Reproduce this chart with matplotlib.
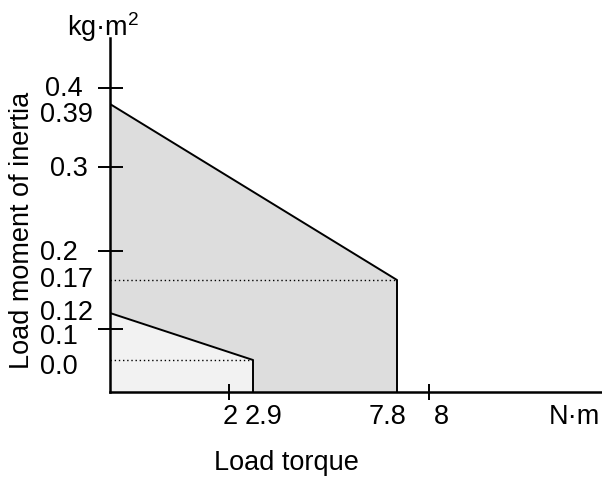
import numpy as np
import matplotlib
matplotlib.use("Agg")
import matplotlib.pyplot as plt
import matplotlib.transforms as mtransforms

plt.rcParams['font.family'] = ['Liberation Sans', 'DejaVu Sans']
plt.rcParams['mathtext.fontset'] = 'custom'
plt.rcParams['mathtext.rm'] = 'Liberation Sans'

# operating regions: (max torque, inertia at zero torque, inertia at max torque)
torque_max = [7.8, 2.9]
inertia_at_zero = [0.39, 0.12]
inertia_at_max = [0.17, 0.05]
region_colors = ['#dddddd', '#f2f2f2']

# ticks with marks
x_ticks = [2, 8]
y_ticks = [0.1, 0.2, 0.3, 0.4]

# labels shown on the axes
x_label_vals = [2, 2.9, 7.8, 8]
x_label_txt = ['2', '2.9', '7.8', '8']
y_label_vals = [0.4, 0.39, 0.3, 0.2, 0.17, 0.12, 0.1, 0.05]
y_label_txt = ['0.4', '0.39', '0.3', '0.2', '0.17', '0.12', '0.1', '0.0']

# the drawing is schematic, not to scale: piecewise axis scales
x_knots = [0, 2, 2.9, 7.8, 8, 12]
x_span = [0, 119, 143, 287, 319, 492]
y_knots = [0, 0.05, 0.1, 0.12, 0.17, 0.2, 0.3, 0.39, 0.4, 0.45]
y_span = [0, 32, 63, 79, 112, 141, 225, 288, 304, 354]


def fwd(knots, span):
    return lambda v: np.interp(v, knots, span)


def inv(knots, span):
    return lambda p: np.interp(p, span, knots)


W, H = 602, 484
fig = plt.figure(figsize=(W / 100, H / 100), dpi=100)
ax = fig.add_axes([110 / W, (H - 392) / H, (W - 110) / W, 354 / H])
ax.set_xscale('function', functions=(fwd(x_knots, x_span), inv(x_knots, x_span)))
ax.set_yscale('function', functions=(fwd(y_knots, y_span), inv(y_knots, y_span)))
ax.set_xlim(0, 12)
ax.set_ylim(0, 0.45)

for tm, i0, i1, c in zip(torque_max, inertia_at_zero, inertia_at_max, region_colors):
    ax.fill([0, 0, tm, tm], [0, i0, i1, 0], facecolor=c, edgecolor='none', zorder=1)
    ax.plot([0, tm, tm], [i0, i1, 0], color='black', lw=1.4, zorder=3)
    ax.plot([0, tm], [i1, i1], color='black', lw=1.0, linestyle=(0, (1, 2)), zorder=2)

for s in ['top', 'right']:
    ax.spines[s].set_visible(False)
for s in ['left', 'bottom']:
    ax.spines[s].set_linewidth(1.8)
    ax.spines[s].set_zorder(4)

ax.set_xticks(x_ticks)
ax.set_yticks(y_ticks)
ax.xaxis.set_minor_locator(matplotlib.ticker.NullLocator())
ax.yaxis.set_minor_locator(matplotlib.ticker.NullLocator())
ax.tick_params(axis='y', direction='inout', length=18, width=1.4, labelleft=False)
ax.tick_params(axis='x', direction='inout', length=12, width=1.4, labelbottom=False)

fs = 19.5
# x labels, nudged sideways like the original drawing (pixels)
x_nudge = [1, 11, -10, 12]
for v, t, dx in zip(x_label_vals, x_label_txt, x_nudge):
    tr = mtransforms.offset_copy(ax.get_xaxis_transform(), fig=fig, x=dx * 0.72, y=-25 * 0.72, units='points')
    ax.text(v, 0, t, transform=tr, ha='center', va='center', fontsize=fs)

# y labels, left aligned column with small nudges (pixels)
y_left = [45, 40, 50, 40, 40, 40, 40, 40]
y_nudge = [-1, -11, -2, -2, 0, 0, -8, -7]
for v, t, xl, dy in zip(y_label_vals, y_label_txt, y_left, y_nudge):
    base = mtransforms.blended_transform_factory(fig.transFigure, ax.transData)
    tr = mtransforms.offset_copy(base, fig=fig, y=dy * 0.72, units='points')
    ax.text(xl / W, v, t, transform=tr, ha='left', va='center', fontsize=fs)

fig.text(574 / W, 1 - 417 / H, 'N·m', ha='center', va='center', fontsize=fs)
fig.text(286 / W, 1 - 463 / H, 'Load torque', ha='center', va='center', fontsize=fs)
fig.text(103 / W, 1 - 27 / H, 'kg·m$^{2}$', ha='center', va='center', fontsize=fs)
fig.text(22 / W, 1 - 230 / H, 'Load moment of inertia', ha='center', va='center',
         rotation=90, fontsize=fs)

fig.savefig('out.png', dpi=100)
